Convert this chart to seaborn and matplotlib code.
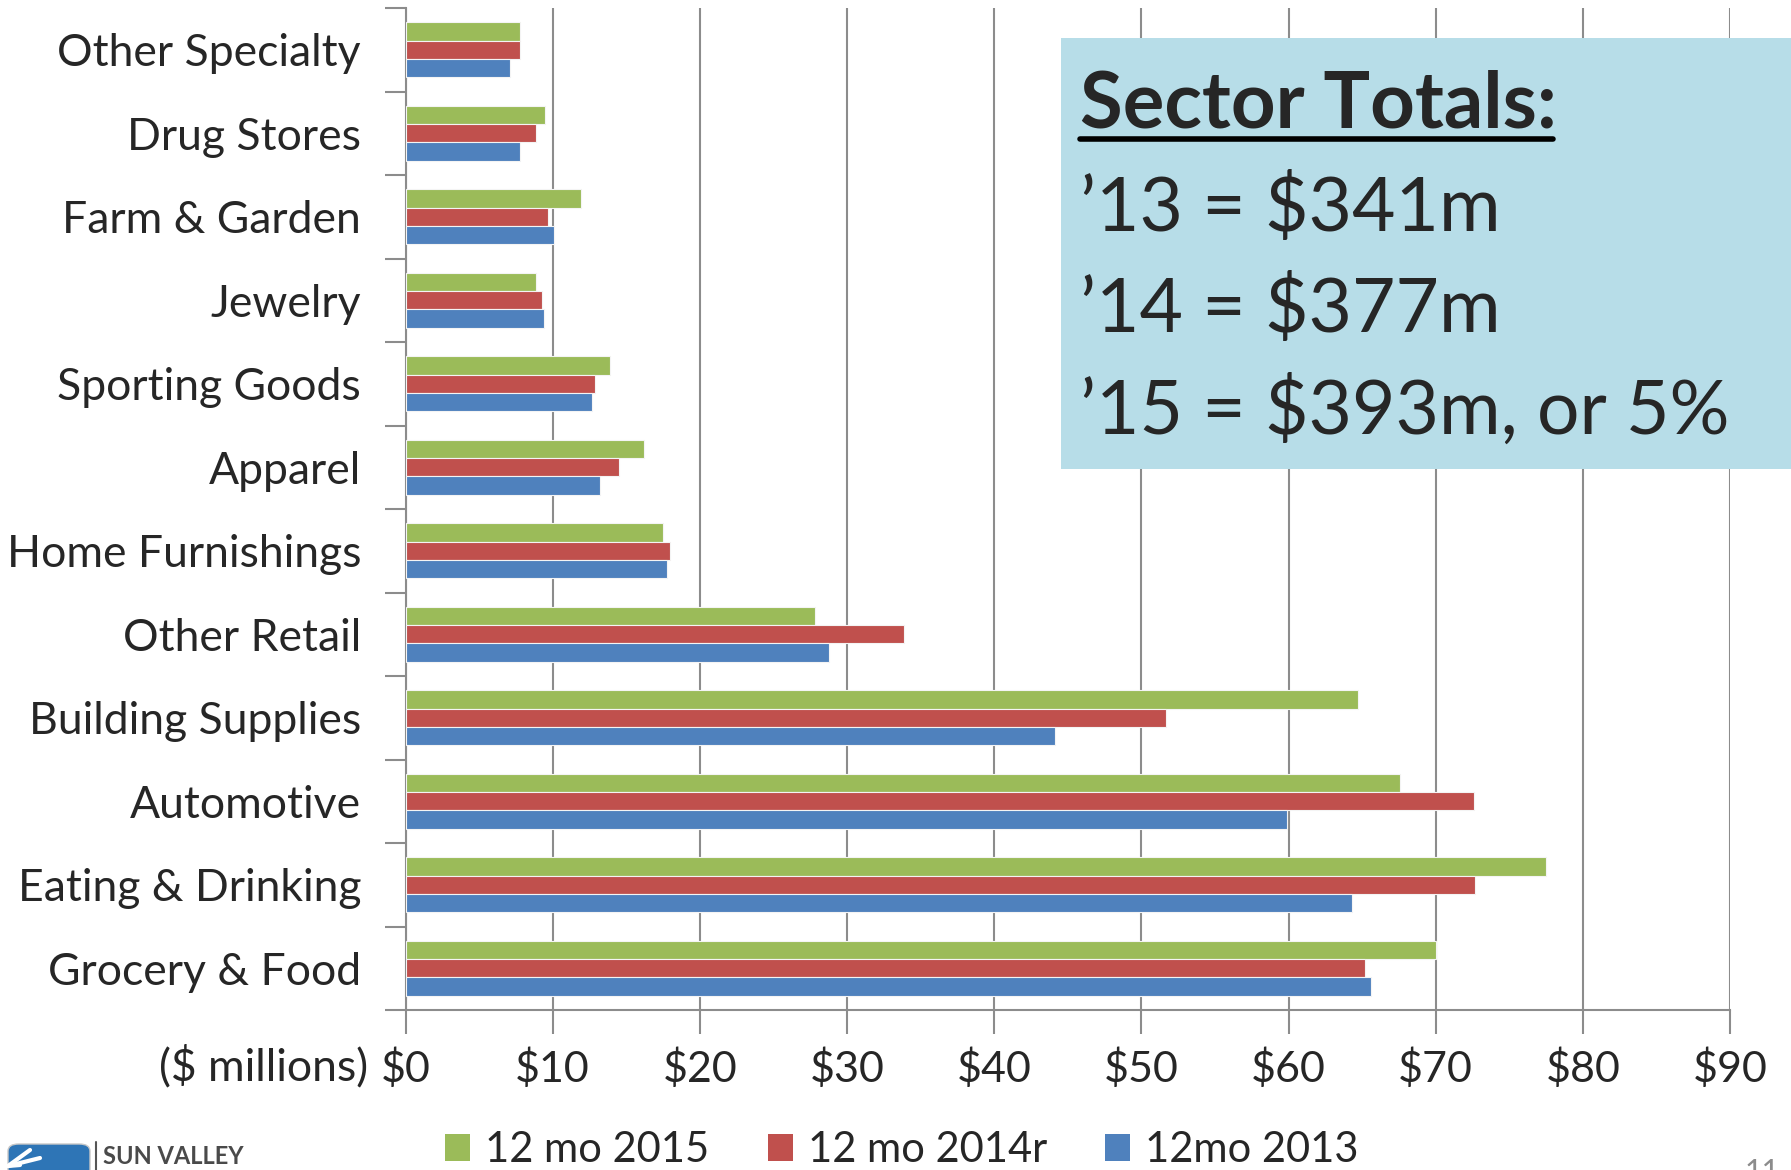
import numpy as np
import pandas as pd
import seaborn as sns
import matplotlib.pyplot as plt
from matplotlib.patches import Rectangle, FancyBboxPatch, Patch

categories = ["Other Specialty", "Drug Stores", "Farm & Garden", "Jewelry",
              "Sporting Goods", "Apparel", "Home Furnishings", "Other Retail",
              "Building Supplies", "Automotive", "Eating & Drinking", "Grocery & Food"]
series = ["12 mo 2015", "12 mo 2014r", "12mo 2013"]
vals_2015 = [7.8, 9.5, 11.9, 8.9, 13.9, 16.2, 17.5, 27.8, 64.7, 67.6, 77.5, 70.0]
vals_2014 = [7.8, 8.9, 9.7, 9.3, 12.9, 14.5, 18.0, 33.9, 51.7, 72.6, 72.7, 65.2]
vals_2013 = [7.1, 7.8, 10.1, 9.4, 12.7, 13.2, 17.8, 28.8, 44.1, 59.9, 64.3, 65.6]
colors = ["#9BBB59", "#C0504D", "#4F81BD"]
xticks = list(range(0, 100, 10))
box_title = "Sector Totals:"
box_lines = ["\u201913 = $341m", "\u201914 = $377m", "\u201915 = $393m, or 5%"]

df = pd.DataFrame({
    "category": categories * 3,
    "series": [series[0]] * 12 + [series[1]] * 12 + [series[2]] * 12,
    "value": vals_2015 + vals_2014 + vals_2013,
})

sns.set_style("white")
plt.rcParams["font.family"] = ["Lato", "DejaVu Sans"]

W, H = 1791, 1170
fig = plt.figure(figsize=(W / 100, H / 100), dpi=100)
ax = fig.add_axes([405.5 / W, (H - 1010) / H, (1730 - 405.5) / W, (1010 - 8) / H])

sns.barplot(data=df, y="category", x="value", hue="series", order=categories,
            hue_order=series, palette=colors, saturation=1, orient="h", width=0.66,
            gap=0, edgecolor="#F4F4F4", linewidth=0.8, ax=ax, legend=False, zorder=3)

grid_c = "#8C8C8C"
ax.set_xlim(0, 90)
ax.set_ylim(11.5, -0.5)
ax.set_xticks(xticks)
ax.set_xticklabels([f"${t}" for t in xticks], fontsize=31)
ax.xaxis.grid(True, color=grid_c, linewidth=1.5, zorder=0)
ax.set_axisbelow(True)
ax.tick_params(axis="x", length=17, width=1.5, color=grid_c, pad=11, bottom=True)
ax.set_yticks(range(len(categories)))
ax.set_yticklabels(categories, fontsize=32)
ax.set_yticks(np.arange(-0.5, 12, 1), minor=True)
ax.tick_params(axis="y", which="major", length=0, pad=32)
ax.tick_params(axis="y", which="minor", length=15, width=1.5, color=grid_c, left=True)
ax.set_xlabel("")
ax.set_ylabel("")
for side in ["top", "right"]:
    ax.spines[side].set_visible(False)
for side in ["left", "bottom"]:
    ax.spines[side].set_color(grid_c)
    ax.spines[side].set_linewidth(1.5)
ax.spines["bottom"].set_bounds(0, 90)

fig.text(368 / W, 1 - 1067 / H, "($ millions)", fontsize=32, ha="right", va="center")

# info box
fig.patches.append(Rectangle((1061 / W, 1 - 469 / H), (W - 1061) / W, (469 - 38) / H,
                             transform=fig.transFigure, facecolor="#B7DDE8",
                             edgecolor="none", zorder=5))
fig.text(1080 / W, 1 - 128 / H, box_title, fontsize=56, fontweight="bold",
         ha="left", va="baseline", zorder=6)
fig.add_artist(plt.Line2D([1080 / W, 1553 / W], [1 - 139 / H, 1 - 139 / H],
                          color="black", linewidth=4, zorder=6))
for txt, yb in zip(box_lines, [231, 332, 434]):
    fig.text(1080 / W, 1 - yb / H, txt, fontsize=54, ha="left", va="baseline", zorder=6)

# legend
handles = [Patch(facecolor=c, edgecolor="none") for c in colors]
fig.legend(handles, series, loc="center", bbox_to_anchor=(902 / W, 1 - 1150 / H),
           ncol=3, frameon=False, fontsize=30, handlelength=0.6, handleheight=0.6,
           handletextpad=0.36, columnspacing=1.4)

# logo and page number
fig.patches.append(FancyBboxPatch((8 / W, 1 - 1178 / H), 82 / W, 34 / H,
                                  boxstyle="round,pad=0,rounding_size=0.006",
                                  transform=fig.transFigure, facecolor="#2E75B6",
                                  edgecolor="#C8C8C8", linewidth=1))
for dx, dy in [(30, 1150), (40, 1158), (20, 1165)]:
    fig.add_artist(plt.Line2D([8 / W, dx / W], [1 - 1166 / H, 1 - dy / H],
                              color="white", linewidth=3))
fig.add_artist(plt.Line2D([96 / W, 96 / W], [0, 1 - 1142 / H], color="#555555", linewidth=1.5))
fig.text(103 / W, 1 - 1156 / H, "SUN VALLEY", fontsize=17, fontweight="bold",
         color="#4A4A4A", ha="left", va="center")
fig.text(1745 / W, 1 - 1158 / H, "11", fontsize=22, color="#8C8C8C", ha="left", va="top")

fig.savefig("out.png", dpi=100)
